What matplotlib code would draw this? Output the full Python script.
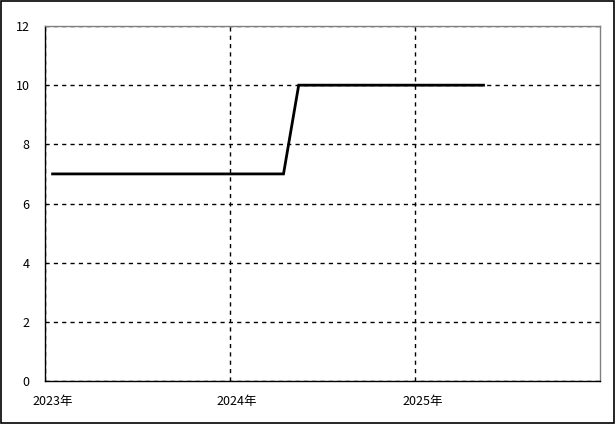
import matplotlib
matplotlib.use("Agg")
import matplotlib.pyplot as plt
import matplotlib.transforms as mtransforms
from matplotlib.patches import Rectangle
import pandas as pd

plt.rcParams['font.family'] = ['Noto Sans CJK JP', 'DejaVu Sans']

# monthly values, Jan 2023 - May 2025 (plotted mid-month)
months = pd.date_range("2023-01-01", periods=29, freq="MS") + pd.Timedelta(days=15)
values = [7, 7, 7, 7, 7, 7, 7, 7, 7, 7, 7, 7,
          7, 7, 7, 7, 10, 10, 10, 10, 10, 10, 10, 10,
          10, 10, 10, 10, 10]
year_ticks = pd.to_datetime(["2023-01-01", "2024-01-01", "2025-01-01"])
year_labels = ["2023年", "2024年", "2025年"]
y_ticks = [0, 2, 4, 6, 8, 10, 12]

fig = plt.figure(figsize=(6.15, 4.24), dpi=100)
ax = fig.add_axes([45/615, 1-381/424, 555/615, 355/424])

ax.plot(months, values, color='black', linewidth=2, solid_joinstyle='miter')

ax.set_xlim(pd.Timestamp("2023-01-01"), pd.Timestamp("2026-01-01"))
ax.set_ylim(0, 12)
ax.set_yticks(y_ticks)
ax.set_xticks(year_ticks)
ax.set_xticklabels(year_labels, ha='left')
ax.tick_params(axis='both', length=0, labelsize=9, colors='black')
ax.tick_params(axis='y', pad=11)
ax.tick_params(axis='x', pad=10)
shift = mtransforms.ScaledTranslation(-13/100, 0, fig.dpi_scale_trans)
for lab in ax.get_xticklabels():
    lab.set_transform(lab.get_transform() + shift)

ax.grid(True, color='black', linestyle=(0, (3, 3)), linewidth=1)
ax.spines['left'].set_color('black')
ax.spines['bottom'].set_color('black')
ax.spines['top'].set_color('#808080')
ax.spines['right'].set_color('#808080')
for s in ax.spines.values():
    s.set_linewidth(1)
    s.set_zorder(3)

# outer frame round the whole picture
fig.patches.append(Rectangle((0.001, 0.002), 0.997, 0.996, transform=fig.transFigure,
                             fill=False, edgecolor='black', linewidth=1.2))

fig.savefig("out.png", dpi=100)
